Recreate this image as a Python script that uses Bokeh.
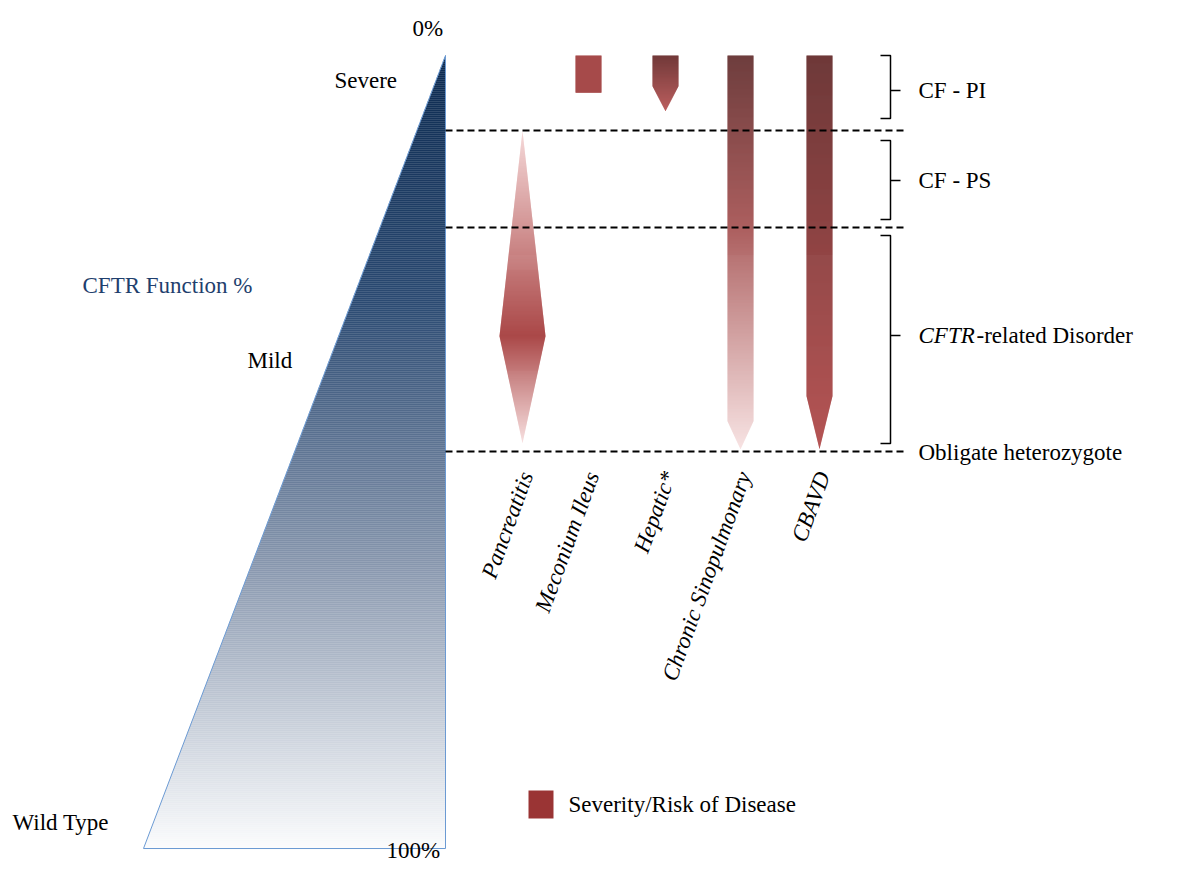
import numpy as np
from bokeh.plotting import figure
from bokeh.models import Range1d, ColumnDataSource
from bokeh.embed import file_html
from bokeh.resources import INLINE

# severity levels (pixel rows of the diagram), categories and labels
levels = [55, 130, 227, 451]          # 0%, CF-PI/PS, PS/related, obligate het
bottom_level = 848                    # 100%
groups = ["CF - PI", "CF - PS", "CFTR-related Disorder", "Obligate heterozygote"]
group_y = [90, 180, 335, 452]
diseases = ["Pancreatitis", "Meconium Ileus", "Hepatic*", "Chronic Sinopulmonary", "CBAVD"]
disease_x = [522, 588, 665, 740, 819]
# (top, point start, bottom) rows for each disease marker
disease_top = [130, 55, 55, 55, 55]
disease_body_end = [335, 92, 85, 420, 395]
disease_bottom = [442, 92, 110, 448, 448]
# colour stops: (row, colour)
disease_stops = [
    [(130, "#f4d3d3"), (335, "#9e2e2e"), (442, "#f6dada")],
    [(55, "#9a3030"), (92, "#9a3030")],
    [(55, "#5e1d1d"), (110, "#b24848")],
    [(55, "#5a2222"), (227, "#a04848"), (448, "#f6dede")],
    [(55, "#5a1d1d"), (448, "#a83636")],
]

FONT = "Liberation Serif"

p = figure(width=1184, height=863, output_backend="svg", toolbar_location=None,
           x_range=Range1d(0, 1184), y_range=Range1d(863, 0), min_border=0)
p.axis.visible = False
p.grid.visible = False
p.outline_line_color = None


def hx(c):
    c = c.lstrip("#")
    return np.array([int(c[i:i + 2], 16) for i in (0, 2, 4)], float)


def interp_color(y, stops):
    ys = [s[0] for s in stops]
    cs = np.array([hx(s[1]) for s in stops])
    rgb = [np.interp(y, ys, cs[:, k]) for k in range(3)]
    return "#%02x%02x%02x" % tuple(int(round(v)) for v in rgb)


# gradient triangle
apex_x, left_x = 445, 143
ys = np.arange(levels[0], bottom_level, 2.0)
tri = dict(left=[], right=[], top=[], bottom=[], c=[])
for y in ys:
    f = (y + 1 - levels[0]) / (bottom_level - levels[0])
    tri["left"].append(apex_x - f * (apex_x - left_x))
    tri["right"].append(apex_x)
    tri["top"].append(y)
    tri["bottom"].append(y + 2.3)
    tri["c"].append(interp_color(y, [(55, "#0c2a50"), (300, "#2b4a72"), (560, "#8796ad"), (848, "#fbfcfd")]))
p.quad(left="left", right="right", top="top", bottom="bottom", fill_color="c", line_color=None,
       source=ColumnDataSource(tri))
p.line([apex_x, left_x, apex_x, apex_x], [levels[0], bottom_level, bottom_level, levels[0]],
       line_color="#6b9ad3", line_width=1)

# disease markers
hw = 13
for i in range(len(diseases)):
    d = dict(left=[], right=[], top=[], bottom=[], c=[])
    x0 = disease_x[i]
    t, m, b = disease_top[i], disease_body_end[i], disease_bottom[i]
    for y in np.arange(t, b, 1.0):
        if i == 0:  # diamond
            if y <= m:
                w = 23 * (y - t) / (m - t)
            else:
                w = 23 * (b - y) / (b - m)
        else:
            w = hw if y <= m else hw * (b - y) / (b - m)
        d["left"].append(x0 - w)
        d["right"].append(x0 + w)
        d["top"].append(y)
        d["bottom"].append(y + 1.2)
        d["c"].append(interp_color(y, disease_stops[i]))
    p.quad(left="left", right="right", top="top", bottom="bottom", fill_color="c", line_color=None,
           source=ColumnDataSource(d))
    p.text([x0 + 4], [472], text=[diseases[i]], angle=70, angle_units="deg", text_align="right",
           text_baseline="middle", text_font_size="23px", text_font=FONT, text_font_style="italic",
           text_color="black")

# dashed level lines
for y in levels[1:]:
    p.line([445, 905], [y, y], line_color="black", line_width=1.8, line_dash="7 4")

# braces
bx = 890
spans = [(levels[0], levels[1] - 12), (levels[1] + 10, levels[2] - 8), (levels[2] + 8, levels[3] - 8)]
for (a, b), gy in zip(spans, group_y):
    p.line([bx - 10, bx, bx, bx - 10], [a, a, b, b], line_color="black", line_width=1.5)
    p.line([bx, bx + 10], [gy, gy], line_color="black", line_width=1.5)

for g, gy in zip(groups, group_y):
    if g.startswith("CFTR"):
        p.text([918], [gy], text=["CFTR"], text_baseline="middle", text_font_size="23px",
               text_font=FONT, text_font_style="italic")
        p.text([976], [gy], text=[g[4:]], text_baseline="middle", text_font_size="23px", text_font=FONT)
    else:
        p.text([918], [gy], text=[g], text_baseline="middle", text_font_size="23px", text_font=FONT)

# left labels
side_labels = ["0%", "Severe", "CFTR Function %", "Mild", "Wild Type", "100%"]
side_x = [412, 334, 82, 247, 12, 386]
side_y = [28, 80, 285, 360, 822, 862]
side_c = ["black", "black", "#1f3f6e", "black", "black", "black"]
for t, x, y, c in zip(side_labels, side_x, side_y, side_c):
    p.text([x], [y], text=[t], text_baseline="bottom" if t == "100%" else "middle",
           text_font_size="23px", text_font=FONT, text_color=c)

# legend
p.quad(left=[528], right=[553], top=[790], bottom=[818], fill_color="#9a3434", line_color=None)
p.text([568], [804], text=["Severity/Risk of Disease"], text_baseline="middle", text_font_size="23px",
       text_font=FONT)

open("out.html", "w").write(file_html(p, INLINE))
